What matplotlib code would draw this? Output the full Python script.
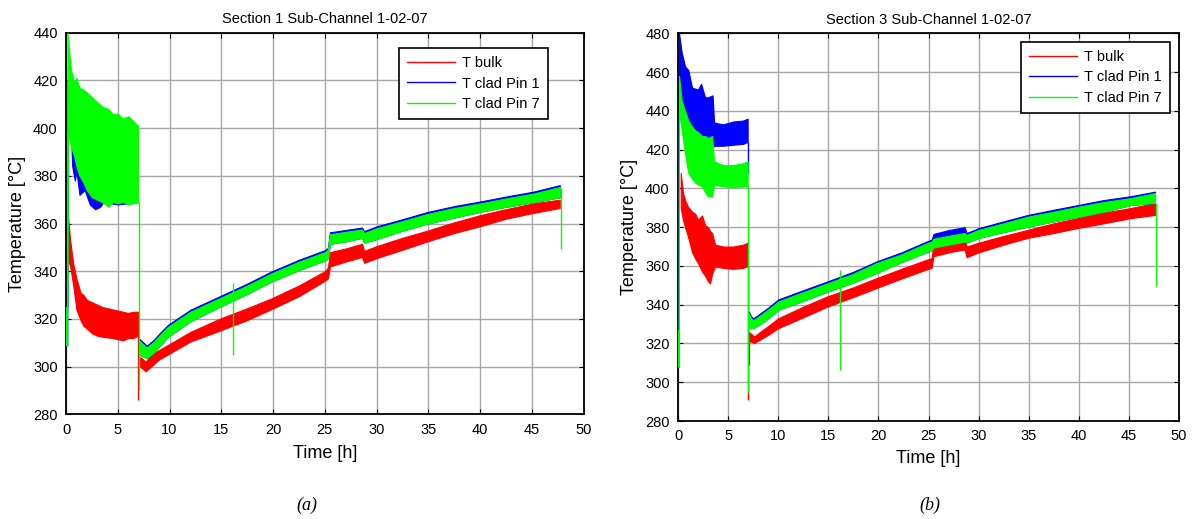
import matplotlib
matplotlib.use("Agg")
import numpy as np
import matplotlib.pyplot as plt
from matplotlib.lines import Line2D

plt.rcParams['font.family'] = ['Liberation Sans', 'DejaVu Sans']

# ---------------------------------------------------------------------------
# Section 1 (panel a): envelope of each measured signal (min / max in band)
# ---------------------------------------------------------------------------
a_title = "Section 1 Sub-Channel 1-02-07"
a_ylim = (280, 440)
a_yticks = [280, 300, 320, 340, 360, 380, 400, 420, 440]

# T bulk
a_bulk_t1 = [0.20, 0.40, 0.70, 1.00, 1.40, 1.70, 2.00, 2.50, 3.00, 3.50, 4.50, 5.50, 6.00, 6.50, 6.95]
a_bulk_lo1 = [345, 342, 334, 324, 319.5, 317, 316, 314, 313, 312.5, 312, 311, 312, 312, 313]
a_bulk_hi1 = [362, 353, 343, 337, 331, 330, 328, 327, 326, 325, 324, 323, 322.5, 323, 323]
a_bulk_t2 = [7.05, 7.30, 7.70, 8.20, 9.00, 10.0, 12.0, 14.8, 17.5, 19.8, 22.5, 25.0, 25.3, 25.5,
             27.0, 28.6, 28.8, 30.0, 32.5, 34.9, 37.5, 40.1, 42.5, 45.2, 47.7]
a_bulk_lo2 = [300, 299.5, 298, 300, 303, 305.5, 310.5, 315, 319.5, 324, 329.5, 336, 337, 342,
              344, 346, 343.5, 345.5, 349, 352.5, 356, 359, 362, 364.5, 366.5]
a_bulk_hi2 = [304, 303.6, 302, 305, 307, 309.5, 314.5, 320, 324.5, 328.5, 334, 340, 341.5, 348,
              349.5, 351.5, 348.5, 350.5, 354, 357, 360.5, 363.6, 366, 368.5, 370]

# T clad Pin 1
a_pin1_t1 = [0.00, 0.12, 0.14, 0.50, 0.60, 0.85, 1.00, 1.30, 1.80, 2.30, 2.80, 3.30, 3.60, 5.00, 6.95]
a_pin1_lo1 = [309, 309, 398, 395, 384, 378, 382, 372, 374, 368, 366, 367, 369, 368, 369]
a_pin1_hi1 = [325, 325, 420, 410, 405, 402, 400, 398, 396, 394, 392, 390, 390, 388, 388]
a_pin1_t2 = [7.05, 7.30, 7.80, 8.50, 9.00, 9.85, 12.0, 14.8, 17.5, 19.8, 22.5, 25.0, 25.3, 25.5,
             27.0, 28.6, 28.8, 30.0, 32.5, 34.9, 37.5, 40.1, 42.5, 45.2, 47.7]
a_pin1_lo2 = [305, 304.5, 303.6, 306, 308.5, 312.5, 319, 325, 330.5, 335.6, 340.5, 344.5, 345.5, 351.5,
              352.5, 354, 352, 353.5, 357, 360, 362.5, 365, 367, 369, 371]
a_pin1_hi2 = [311.8, 310.8, 308.8, 311.3, 313.8, 317.5, 323.8, 329.4, 334.8, 339.8, 344.8, 348.8, 349.8, 356.3,
              357.3, 358.3, 356.8, 358.8, 361.8, 364.8, 367.3, 369.3, 371.3, 373.4, 376.1]

# T clad Pin 7
a_pin7_t1 = [0.00, 0.12, 0.14, 0.30, 0.50, 0.80, 1.00, 1.30, 1.70, 2.00, 2.50, 3.00, 3.50, 4.10,
             4.50, 5.00, 5.50, 6.00, 6.50, 6.95]
a_pin7_lo1 = [309, 309, 398, 396, 392, 388, 384, 380, 377, 374, 371, 370, 369, 367,
              369, 368.5, 369, 368, 368.5, 369]
a_pin7_hi1 = [325, 325, 440, 432, 424, 419, 421, 417, 416, 415, 413, 411, 409, 408,
              406, 406, 404, 405, 403, 401]
a_pin7_t2 = [7.05, 7.30, 7.80, 8.50, 9.00, 9.85, 12.0, 14.8, 17.5, 19.8, 22.5, 25.0, 25.3, 25.5,
             27.0, 28.6, 28.8, 30.0, 32.5, 34.9, 37.5, 40.1, 42.5, 45.2, 47.7]
a_pin7_lo2 = [305, 304.5, 303.6, 306, 308.5, 312.5, 319, 325, 330.5, 335.6, 340.5, 344.5, 345.5, 351.5,
              352.5, 354, 352, 353.5, 357, 360, 362.5, 365, 367, 369, 371]
a_pin7_hi2 = [311, 310, 308, 310.5, 313, 316.7, 323, 328.6, 334, 339, 344, 348, 349, 355.5,
              356.5, 357.5, 356, 358, 361, 364, 366.5, 368.5, 370.5, 372.6, 375.3]

# short excursions (time, lowest, highest)
a_bulk_spk_t, a_bulk_spk_lo, a_bulk_spk_hi = [7.00], [286], [323]
a_pin7_spk_t, a_pin7_spk_lo, a_pin7_spk_hi = [7.02, 16.15, 47.80], [290, 305, 349.5], [369, 335, 375]

# ---------------------------------------------------------------------------
# Section 3 (panel b)
# ---------------------------------------------------------------------------
b_title = "Section 3 Sub-Channel 1-02-07"
b_ylim = (280, 480)
b_yticks = [280, 300, 320, 340, 360, 380, 400, 420, 440, 460, 480]

b_bulk_t1 = [0.27, 0.50, 0.70, 1.00, 1.40, 1.70, 2.00, 2.40, 2.70, 3.00, 3.20, 3.40, 3.70, 4.50, 5.50, 6.50, 6.95]
b_bulk_lo1 = [390, 383.7, 380, 375, 367, 364, 361.4, 357, 355, 352, 351, 356, 359.7, 359, 358.5, 359, 360]
b_bulk_hi1 = [408, 397.6, 394, 390.5, 388, 387, 384, 386, 381, 380, 378, 377, 371, 370, 370, 371, 372]
b_bulk_t2 = [7.05, 7.30, 7.60, 8.20, 9.00, 10.0, 12.5, 14.9, 17.5, 19.8, 22.3, 24.7, 25.3, 25.5,
             27.0, 28.6, 28.8, 30.0, 32.5, 34.9, 37.5, 39.9, 42.5, 45.2, 47.6]
b_bulk_lo2 = [321, 321, 320.2, 322, 324.5, 327.9, 333.5, 339, 344, 348.6, 353.5, 358, 359, 365,
              367, 368.5, 364.5, 367, 371, 374.5, 377, 379.6, 382, 384.7, 386.3]
b_bulk_hi2 = [326, 325, 323.6, 326, 329, 333, 339, 344.3, 349, 353.7, 358.5, 363, 364, 371,
              372.5, 374.5, 370, 372, 375.5, 378.6, 382, 384.7, 387.5, 389.9, 392.5]

b_pin1_t1 = [0.00, 0.08, 0.10, 0.37, 0.70, 1.03, 1.40, 2.00, 2.30, 2.70, 3.00, 3.45, 3.60, 4.50, 5.50, 6.50, 6.95]
b_pin1_lo1 = [308, 308, 456, 445, 436, 431, 429, 427, 425, 423, 422, 421, 422, 422, 422.5, 423, 424]
b_pin1_hi1 = [327, 327, 480, 470, 463, 461, 452, 451, 454, 447, 447, 448, 434, 433, 434.5, 435, 436]
b_pin1_t2 = [7.05, 7.30, 7.50, 8.20, 9.00, 10.0, 12.5, 14.9, 17.5, 19.8, 22.3, 24.9, 25.3, 25.5,
             27.0, 28.6, 28.8, 30.0, 32.5, 34.9, 37.5, 39.9, 42.5, 45.2, 47.6]
b_pin1_lo2 = [328, 328, 328, 330, 333, 337.4, 342, 346.8, 351.5, 356.5, 362, 367.3, 368, 370,
              371.5, 373, 372, 374.5, 377.5, 380.3, 383, 385.4, 388, 391.5, 392.5]
b_pin1_hi2 = [336.5, 334, 333, 335.5, 338.5, 342.7, 347.5, 352, 357, 362.3, 367, 372.8, 373.5, 376.5,
              378.5, 380, 377, 379.5, 383, 386.3, 389, 391.4, 394, 396, 398.3]

b_pin7_t1 = [0.00, 0.08, 0.10, 0.37, 0.70, 1.03, 1.40, 1.70, 2.00, 2.40, 2.70, 3.00, 3.40, 3.60, 4.50, 5.50, 6.50, 6.95]
b_pin7_lo1 = [308, 308, 440, 430, 418, 408, 405, 403, 402, 401, 398, 396, 396, 402, 401, 400.5, 401, 401]
b_pin7_hi1 = [327, 327, 458, 445, 440, 435, 432, 430, 429, 427, 427, 426, 427, 414, 412, 412, 413, 414]
b_pin7_t2 = b_pin1_t2
b_pin7_lo2 = [328, 328, 328, 330, 333, 337.4, 342, 346.8, 351.5, 356.3, 362, 367.3, 368, 369.5,
              371, 372.6, 372, 374.5, 377.5, 380.3, 383, 385.4, 388, 391.5, 392.5]
b_pin7_hi2 = [335.6, 333, 332, 334.5, 337.5, 341.7, 346.5, 351, 356, 361.5, 366, 371.9, 372.5, 374,
              375.5, 377, 376, 378.6, 382, 385.4, 388, 390.5, 393, 395, 397.6]

b_bulk_spk_t, b_bulk_spk_lo, b_bulk_spk_hi = [6.97, 7.05], [291, 309], [360, 321]
b_pin1_spk_t, b_pin1_spk_lo, b_pin1_spk_hi = [6.96], [408], [424]
b_pin7_spk_t, b_pin7_spk_lo, b_pin7_spk_hi = [6.98, 16.20, 47.70], [295, 306.4, 349.4], [401, 358, 392.5]

series_names = ["T bulk", "T clad Pin 1", "T clad Pin 7"]
series_colors = ["#ff0000", "#0000ff", "#00ff00"]
xticks = [0, 5, 10, 15, 20, 25, 30, 35, 40, 45, 50]


def draw_band(ax, t, lo, hi, color):
    ax.fill_between(t, lo, hi, color=color, lw=0.8, edgecolor=color, zorder=3)


def style_axes(ax, title, ylim, yticks, ylabel_pad, xlabel_pad):
    ax.set_xlim(0, 50)
    ax.set_ylim(*ylim)
    ax.set_xticks(xticks)
    ax.set_yticks(yticks)
    ax.grid(True, color="#a8a8a8", lw=1.0, zorder=0)
    ax.set_axisbelow(True)
    ax.tick_params(direction="in", length=3.5, width=0.8, top=True, right=True,
                   labelsize=10.5, pad=6, colors="black")
    for sp in ax.spines.values():
        sp.set_linewidth(1.3)
        sp.set_color("black")
    ax.set_title(title, fontsize=10.5, pad=7)
    ax.set_xlabel("Time [h]", fontsize=13, labelpad=xlabel_pad)
    ax.set_ylabel("Temperature [°C]", fontsize=13, labelpad=ylabel_pad)


fig = plt.figure(figsize=(11.96, 5.19), dpi=100)
ax_a = fig.add_axes([0.0552, 0.2017, 0.4327, 0.7353])
ax_b = fig.add_axes([0.5669, 0.1888, 0.4189, 0.7470])

# panel a
draw_band(ax_a, a_bulk_t1, a_bulk_lo1, a_bulk_hi1, series_colors[0])
draw_band(ax_a, a_bulk_t2, a_bulk_lo2, a_bulk_hi2, series_colors[0])
ax_a.vlines(a_bulk_spk_t, a_bulk_spk_lo, a_bulk_spk_hi, color=series_colors[0], lw=1.0, zorder=3)
draw_band(ax_a, a_pin1_t1, a_pin1_lo1, a_pin1_hi1, series_colors[1])
draw_band(ax_a, a_pin1_t2, a_pin1_lo2, a_pin1_hi2, series_colors[1])
draw_band(ax_a, a_pin7_t1, a_pin7_lo1, a_pin7_hi1, series_colors[2])
draw_band(ax_a, a_pin7_t2, a_pin7_lo2, a_pin7_hi2, series_colors[2])
ax_a.vlines(a_pin7_spk_t, a_pin7_spk_lo, a_pin7_spk_hi, color=series_colors[2], lw=1.0, zorder=3)
style_axes(ax_a, a_title, a_ylim, a_yticks, 5, 6)

# panel b
draw_band(ax_b, b_bulk_t1, b_bulk_lo1, b_bulk_hi1, series_colors[0])
draw_band(ax_b, b_bulk_t2, b_bulk_lo2, b_bulk_hi2, series_colors[0])
ax_b.vlines(b_bulk_spk_t, b_bulk_spk_lo, b_bulk_spk_hi, color=series_colors[0], lw=1.0, zorder=3)
draw_band(ax_b, b_pin1_t1, b_pin1_lo1, b_pin1_hi1, series_colors[1])
draw_band(ax_b, b_pin1_t2, b_pin1_lo2, b_pin1_hi2, series_colors[1])
ax_b.vlines(b_pin1_spk_t, b_pin1_spk_lo, b_pin1_spk_hi, color=series_colors[1], lw=1.0, zorder=3)
draw_band(ax_b, b_pin7_t1, b_pin7_lo1, b_pin7_hi1, series_colors[2])
draw_band(ax_b, b_pin7_t2, b_pin7_lo2, b_pin7_hi2, series_colors[2])
ax_b.vlines(b_pin7_spk_t, b_pin7_spk_lo, b_pin7_spk_hi, color=series_colors[2], lw=1.0, zorder=3)
style_axes(ax_b, b_title, b_ylim, b_yticks, 5, 5)

handles = [Line2D([0], [0], color=c, lw=1.0) for c in series_colors]
for ax, anchor in ((ax_a, (0.931, 0.96)), (ax_b, (0.982, 0.978))):
    leg = ax.legend(handles, series_names, loc="upper right", bbox_to_anchor=anchor,
                    fontsize=10.5, handlelength=3.3, fancybox=False, framealpha=1,
                    edgecolor="black", borderpad=0.55, labelspacing=0.45, handletextpad=0.5,
                    borderaxespad=0)
    leg.get_frame().set_linewidth(1.2)
    leg.set_zorder(5)

fig.text(307 / 1196, 1 - 505 / 519, "(a)", fontsize=13, family="Liberation Serif",
         style="italic", ha="center", va="center")
fig.text(930 / 1196, 1 - 505 / 519, "(b)", fontsize=13, family="Liberation Serif",
         style="italic", ha="center", va="center")

fig.savefig("out.png", dpi=100)
